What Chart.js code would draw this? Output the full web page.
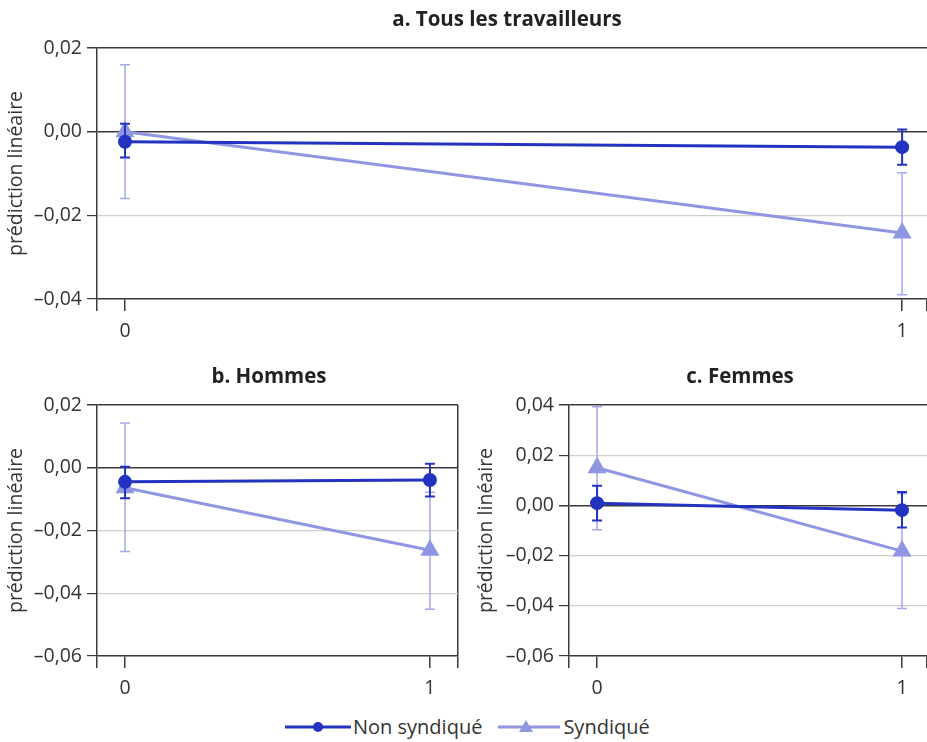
<!DOCTYPE html>
<html>
<head>
<meta charset="utf-8">
<script src="https://cdn.jsdelivr.net/npm/chart.js@4.4.1/dist/chart.umd.min.js"></script>
<style>
  body { margin: 0; background: #fff; font-family: "Open Sans", sans-serif; }
  #wrap { position: relative; width: 927px; height: 742px; overflow: hidden; }
  .box { position: absolute; }
  .ttl { position: absolute; font-weight: bold; font-size: 20.5px; color: #222; transform: translate(-50%, -50%); white-space: nowrap; }
  #legend { position: absolute; top: 713px; left: 285px; font-size: 20px; color: #333; display: flex; align-items: center; }
  #legend span { display: inline-flex; align-items: center; }
</style>
</head>
<body>
<div id="wrap">
  <div class="box" style="left:0;top:0;width:939px;height:340px"><canvas id="chartTous"></canvas></div>
  <div class="box" style="left:0;top:357px;width:470px;height:340px"><canvas id="chartHommes"></canvas></div>
  <div class="box" style="left:470px;top:357px;width:469px;height:340px"><canvas id="chartFemmes"></canvas></div>
  <div class="ttl" style="left:507px;top:18px">a. Tous les travailleurs</div>
  <div class="ttl" style="left:269px;top:375px">b. Hommes</div>
  <div class="ttl" style="left:740px;top:375px">c. Femmes</div>
  <div id="legend">
    <span style="margin-right:16px"><svg width="66" height="14" style="margin-right:2px"><line x1="0" y1="7" x2="66" y2="7" stroke="#2233c0" stroke-width="3"/><circle cx="33" cy="7" r="5" fill="#2233c0"/></svg>Non syndiqué</span>
    <span><svg width="62" height="14" style="margin-right:3px"><line x1="0" y1="7" x2="62" y2="7" stroke="#8f96e2" stroke-width="3"/><polygon points="28,0 35,12 21,12" fill="#8f96e2"/></svg>Syndiqué</span>
  </div>
</div>
<script>
const xValues = [0, 1];
const seriesNames = ['Non syndiqué', 'Syndiqué'];

// a. Tous les travailleurs
const tousNonSynd = [-0.0024, -0.0037];
const tousNonSyndLow = [-0.0062, -0.0079];
const tousNonSyndHigh = [0.0019, 0.0005];
const tousSynd = [0.0000, -0.0242];
const tousSyndLow = [-0.0160, -0.0390];
const tousSyndHigh = [0.0160, -0.0098];
const tousYTicks = [-0.04, -0.02, 0.00, 0.02];

// b. Hommes
const hommesNonSynd = [-0.0045, -0.0039];
const hommesNonSyndLow = [-0.0097, -0.0092];
const hommesNonSyndHigh = [0.0003, 0.0013];
const hommesSynd = [-0.0064, -0.0263];
const hommesSyndLow = [-0.0267, -0.0451];
const hommesSyndHigh = [0.0143, -0.0078];
const hommesYTicks = [-0.06, -0.04, -0.02, 0.00, 0.02];

// c. Femmes
const femmesNonSynd = [0.0009, -0.0019];
const femmesNonSyndLow = [-0.0060, -0.0088];
const femmesNonSyndHigh = [0.0078, 0.0053];
const femmesSynd = [0.0150, -0.0182];
const femmesSyndLow = [-0.0097, -0.0411];
const femmesSyndHigh = [0.0393, 0.0046];
const femmesYTicks = [-0.06, -0.04, -0.02, 0.00, 0.02, 0.04];

const DARK = '#2233c0';
const LIGHT = '#8f96e2';
const LIGHT_ERR = '#a3a9ec';
const AXIS = '#3a3a3a';

Chart.defaults.font.family = '"Open Sans", sans-serif';
Chart.defaults.font.size = 19.5;
Chart.defaults.color = '#333';

// barres d'erreur dessinées sous chaque série
const errorBars = {
    id: 'errorBars',
    beforeDatasetDraw(chart, args) {
        const ds = chart.data.datasets[args.index];
        if (!ds.low) return;
        const yScale = chart.scales.y;
        const ctx = chart.ctx;
        ctx.save();
        ctx.strokeStyle = ds.errColor;
        ctx.lineWidth = ds.errWidth;
        args.meta.data.forEach((pt, i) => {
            const lo = yScale.getPixelForValue(ds.low[i]);
            const hi = yScale.getPixelForValue(ds.high[i]);
            const cap = 5;
            ctx.beginPath();
            ctx.moveTo(pt.x, lo);
            ctx.lineTo(pt.x, hi);
            ctx.moveTo(pt.x - cap, lo);
            ctx.lineTo(pt.x + cap, lo);
            ctx.moveTo(pt.x - cap, hi);
            ctx.lineTo(pt.x + cap, hi);
            ctx.stroke();
        });
        ctx.restore();
    }
};

function fmt(v) {
    const r = Math.round(v * 100) / 100;
    if (Math.abs(r) < 1e-9) return '0,00';
    const s = Math.abs(r).toFixed(2).replace('.', ',');
    return r < 0 ? '\u2013' + s : s;
}

function makeChart(id, cfg) {
    const yMin = cfg.yTicks[0];
    const yMax = cfg.yTicks[cfg.yTicks.length - 1];
    return new Chart(document.getElementById(id), {
        type: 'line',
        data: {
            datasets: [
                {
                    label: seriesNames[0],
                    data: xValues.map((x, i) => ({ x: x, y: cfg.nonSynd[i] })),
                    low: cfg.nonSyndLow,
                    high: cfg.nonSyndHigh,
                    errColor: DARK,
                    errWidth: 2,
                    borderColor: DARK,
                    backgroundColor: DARK,
                    borderWidth: 3,
                    pointStyle: 'circle',
                    pointRadius: 5.5,
                    pointHoverRadius: 5.5
                },
                {
                    label: seriesNames[1],
                    data: xValues.map((x, i) => ({ x: x, y: cfg.synd[i] })),
                    low: cfg.syndLow,
                    high: cfg.syndHigh,
                    errColor: LIGHT_ERR,
                    errWidth: 1.5,
                    borderColor: LIGHT,
                    backgroundColor: LIGHT,
                    borderWidth: 3,
                    pointStyle: 'triangle',
                    pointRadius: 8,
                    pointHoverRadius: 8
                }
            ]
        },
        options: {
            responsive: true,
            maintainAspectRatio: false,
            animation: false,
            layout: { padding: { top: 48, left: 0, right: 12, bottom: 0 } },
            plugins: {
                legend: { display: false },
                title: { display: false },
                tooltip: { enabled: false }
            },
            scales: {
                x: {
                    type: 'linear',
                    min: cfg.xMin,
                    max: cfg.xMax,
                    afterBuildTicks: (scale) => {
                        scale.ticks = [cfg.xMin, 0, 1, cfg.xMax].map(v => ({ value: v }));
                    },
                    afterFit: (scale) => { scale.height = 41; },
                    ticks: {
                        autoSkip: false,
                        maxRotation: 0,
                        padding: 9,
                        callback: (v) => (v === 0 || v === 1) ? String(v) : ''
                    },
                    grid: {
                        drawOnChartArea: true,
                        tickLength: 12,
                        lineWidth: 1.5,
                        color: (c) => (cfg.rightBorder && c.tick && c.tick.value === cfg.xMax) ? AXIS : 'rgba(0,0,0,0)',
                        tickColor: AXIS
                    },
                    border: { display: true, color: AXIS, width: 1.5 }
                },
                y: {
                    min: yMin,
                    max: yMax,
                    afterBuildTicks: (scale) => {
                        scale.ticks = cfg.yTicks.map(v => ({ value: v }));
                    },
                    afterFit: (scale) => { scale.width = cfg.yWidth; },
                    ticks: {
                        padding: 5,
                        callback: (v) => fmt(v)
                    },
                    grid: {
                        tickLength: 10,
                        lineWidth: (c) => {
                            const v = c.tick ? c.tick.value : 1;
                            return (Math.abs(v) < 1e-9 || Math.abs(v - yMax) < 1e-9) ? 1.5 : 1.2;
                        },
                        color: (c) => {
                            const v = c.tick ? c.tick.value : 1;
                            return (Math.abs(v) < 1e-9 || Math.abs(v - yMax) < 1e-9) ? AXIS : '#cfcfcf';
                        },
                        tickColor: AXIS
                    },
                    border: { display: true, color: AXIS, width: 1.5 },
                    title: {
                        display: true,
                        text: 'prédiction linéaire',
                        color: '#333',
                        font: { size: 19.5 },
                        padding: { top: 5, bottom: 0 }
                    }
                }
            }
        },
        plugins: [errorBars]
    });
}

makeChart('chartTous', {
    nonSynd: tousNonSynd, nonSyndLow: tousNonSyndLow, nonSyndHigh: tousNonSyndHigh,
    synd: tousSynd, syndLow: tousSyndLow, syndHigh: tousSyndHigh,
    yTicks: tousYTicks, xMin: -0.036, xMax: 1.032, yWidth: 97, rightBorder: false
});
makeChart('chartHommes', {
    nonSynd: hommesNonSynd, nonSyndLow: hommesNonSyndLow, nonSyndHigh: hommesNonSyndHigh,
    synd: hommesSynd, syndLow: hommesSyndLow, syndHigh: hommesSyndHigh,
    yTicks: hommesYTicks, xMin: -0.092, xMax: 1.092, yWidth: 97, rightBorder: true
});
makeChart('chartFemmes', {
    nonSynd: femmesNonSynd, nonSyndLow: femmesNonSyndLow, nonSyndHigh: femmesNonSyndHigh,
    synd: femmesSynd, syndLow: femmesSyndLow, syndHigh: femmesSyndHigh,
    yTicks: femmesYTicks, xMin: -0.092, xMax: 1.082, yWidth: 99, rightBorder: false
});
</script>
</body>
</html>
